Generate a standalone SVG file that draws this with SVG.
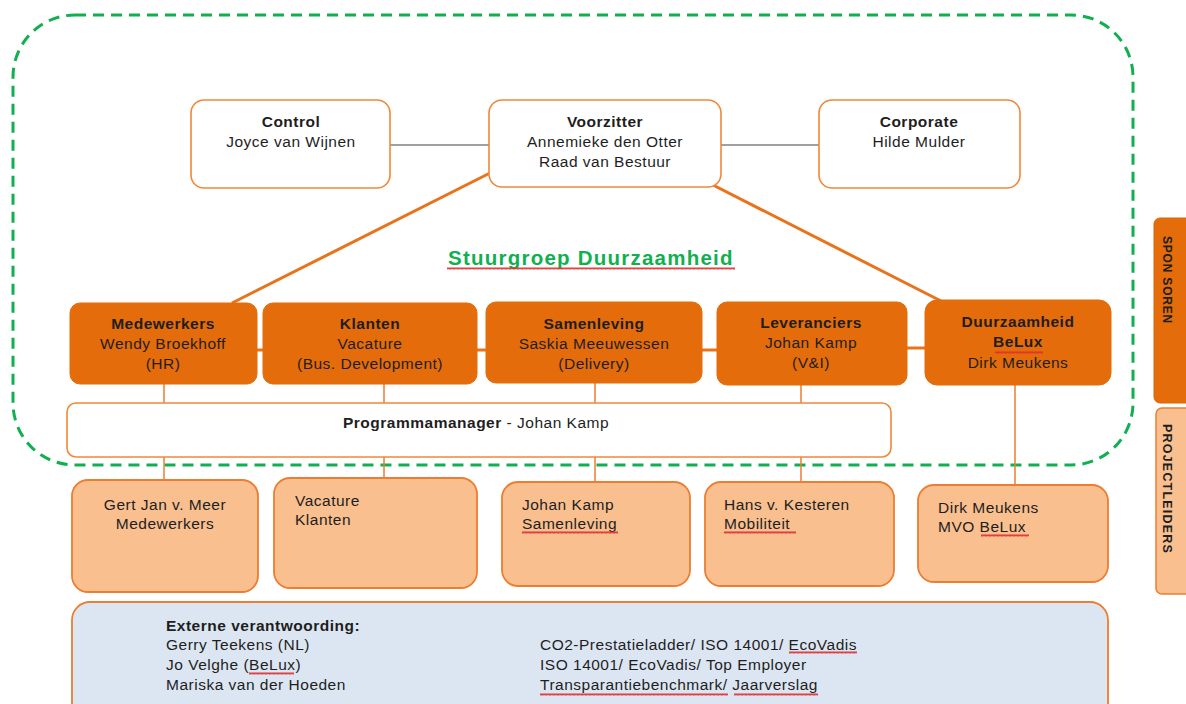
<svg xmlns="http://www.w3.org/2000/svg" width="1186" height="704" viewBox="0 0 1186 704">
<defs>
<pattern id="wave" width="4" height="3" patternUnits="userSpaceOnUse">
<path d="M0 2.6 L1 0.4 L2 2.6 L3 0.4 L4 2.6" fill="none" stroke="#e03030" stroke-width="0.9"/>
</pattern>
</defs>
<style>
text{font-family:"Liberation Sans",Arial,sans-serif;font-size:15.5px;fill:#1e1e1e;letter-spacing:0.5px}
.b{font-weight:bold}
.c{text-anchor:middle}
.wbox{fill:#fff;stroke:#F0883A;stroke-width:1.6}
.obox{fill:#E46C0A;stroke:#E46C0A;stroke-width:1}
.pbox{fill:#F9BF8F;stroke:#ED7D31;stroke-width:1.8}
.thick{stroke:#E8731A;stroke-width:3;fill:none}
.thin{stroke:#ED7D31;stroke-width:1.5;fill:none}
.gray{stroke:#A0A0A0;stroke-width:2;fill:none}
.wv{fill:url(#wave)}
</style>
<rect id="stuurgroep-border" x="13" y="15" width="1120" height="450" rx="62" ry="62" fill="none" stroke="#10B050" stroke-width="3" stroke-dasharray="11 7"/>
<g id="connectors">
<line class="gray" x1="390" y1="145" x2="489" y2="145"/>
<line class="gray" x1="721" y1="145" x2="819" y2="145"/>
<line class="thick" x1="490" y1="173" x2="232" y2="303"/>
<line class="thick" x1="713" y1="185" x2="941" y2="301"/>
<line class="thick" x1="257" y1="350" x2="263" y2="350"/>
<line class="thick" x1="477" y1="350" x2="486" y2="350"/>
<line class="thick" x1="702" y1="350" x2="717" y2="350"/>
<line class="thick" x1="907" y1="348" x2="925" y2="348"/>
<line class="thin" x1="164" y1="384" x2="164" y2="403"/>
<line class="thin" x1="164" y1="457" x2="164" y2="480"/>
<line class="thin" x1="384" y1="384" x2="384" y2="403"/>
<line class="thin" x1="384" y1="457" x2="384" y2="479"/>
<line class="thin" x1="595" y1="383" x2="595" y2="403"/>
<line class="thin" x1="595" y1="457" x2="595" y2="482"/>
<line class="thin" x1="801" y1="385" x2="801" y2="403"/>
<line class="thin" x1="801" y1="457" x2="801" y2="482"/>
<line class="thin" x1="1015" y1="385" x2="1015" y2="485"/>
</g>
<g id="control">
<rect class="wbox" x="191" y="100" width="199" height="88" rx="13"/>
<text class="b c" x="291" y="127">Control</text>
<text class="c" x="291" y="147">Joyce van Wijnen</text>
</g>
<g id="voorzitter">
<rect class="wbox" x="489" y="100" width="232" height="87" rx="13"/>
<text class="b c" x="605" y="127">Voorzitter</text>
<text class="c" x="605" y="147">Annemieke den Otter</text>
<text class="c" x="605" y="167">Raad van Bestuur</text>
</g>
<g id="corporate">
<rect class="wbox" x="819" y="100" width="201" height="88" rx="13"/>
<text class="b c" x="919" y="127">Corporate</text>
<text class="c" x="919" y="147">Hilde Mulder</text>
</g>
<g id="stuurgroep-title">
<text class="b" x="448" y="265" style="fill:#10B050;font-size:20.5px" textLength="285" lengthAdjust="spacing">Stuurgroep Duurzaamheid</text>
<rect class="wv" x="447" y="267" width="288" height="3"/>
</g>
<g id="medewerkers">
<rect class="obox" x="70" y="303" width="187" height="81" rx="10"/>
<text class="b c" x="163" y="329">Medewerkers</text>
<text class="c" x="163" y="349">Wendy Broekhoff</text>
<text class="c" x="163" y="369">(HR)</text>
</g>
<g id="klanten">
<rect class="obox" x="263" y="303" width="214" height="81" rx="10"/>
<text class="b c" x="370" y="329">Klanten</text>
<text class="c" x="370" y="349">Vacature</text>
<text class="c" x="370" y="369">(Bus. Development)</text>
</g>
<g id="samenleving">
<rect class="obox" x="486" y="302" width="216" height="81" rx="10"/>
<text class="b c" x="594" y="329">Samenleving</text>
<text class="c" x="594" y="349">Saskia Meeuwessen</text>
<text class="c" x="594" y="369">(Delivery)</text>
</g>
<g id="leveranciers">
<rect class="obox" x="717" y="302" width="190" height="83" rx="10"/>
<text class="b c" x="811" y="328">Leveranciers</text>
<text class="c" x="811" y="348">Johan Kamp</text>
<text class="c" x="811" y="368">(V&amp;I)</text>
</g>
<g id="duurzaamheid-belux">
<rect class="obox" x="925" y="300" width="186" height="85" rx="12"/>
<text class="b c" x="1018" y="327">Duurzaamheid</text>
<text class="b c" x="1018" y="347">BeLux</text>
<rect class="wv" x="995" y="351" width="48" height="3"/>
<text class="c" x="1018" y="368">Dirk Meukens</text>
</g>
<g id="programmamanager">
<rect class="wbox" x="67" y="403" width="824" height="54" rx="9"/>
<text x="343" y="428"><tspan class="b">Programmamanager</tspan> - Johan Kamp</text>
</g>
<g id="pl-medewerkers">
<rect class="pbox" x="72" y="480" width="186" height="112" rx="16"/>
<text class="c" x="165" y="510">Gert Jan v. Meer</text>
<text class="c" x="165" y="529">Medewerkers</text>
</g>
<g id="pl-klanten">
<rect class="pbox" x="274" y="478" width="203" height="110" rx="16"/>
<text x="295" y="506">Vacature</text>
<text x="295" y="525">Klanten</text>
</g>
<g id="pl-samenleving">
<rect class="pbox" x="502" y="482" width="188" height="104" rx="16"/>
<text x="522" y="510">Johan Kamp</text>
<text x="522" y="529">Samenleving</text>
<rect class="wv" x="522" y="531" width="96" height="3"/>
</g>
<g id="pl-mobiliteit">
<rect class="pbox" x="705" y="482" width="189" height="104" rx="16"/>
<text x="724" y="510">Hans v. Kesteren</text>
<text x="724" y="529">Mobiliteit</text>
<rect class="wv" x="724" y="531" width="72" height="3"/>
</g>
<g id="pl-mvo-belux">
<rect class="pbox" x="918" y="485" width="190" height="97" rx="16"/>
<text x="938" y="513">Dirk Meukens</text>
<text x="938" y="532">MVO BeLux</text>
<rect class="wv" x="981" y="534" width="48" height="3"/>
</g>
<g id="externe-verantwoording">
<rect x="72" y="602" width="1036" height="120" rx="18" fill="#DCE6F2" stroke="#ED7D31" stroke-width="1.8"/>
<text class="b" x="166" y="631">Externe verantwoording:</text>
<text x="166" y="650">Gerry Teekens (NL)</text>
<text x="166" y="670">Jo Velghe (BeLux)</text>
<rect class="wv" x="249" y="672" width="45" height="3"/>
<text x="166" y="690">Mariska van der Hoeden</text>
<text x="540" y="650">CO2-Prestatieladder/ ISO 14001/ EcoVadis</text>
<rect class="wv" x="789" y="651" width="68" height="3"/>
<text x="540" y="670">ISO 14001/ EcoVadis/ Top Employer</text>
<text x="540" y="690">Transparantiebenchmark/ Jaarverslag</text>
<rect class="wv" x="540" y="693" width="188" height="3"/>
<rect class="wv" x="734" y="693" width="84" height="3"/>
</g>
<g id="sponsoren-tab">
<rect x="1154" y="218" width="44" height="185" rx="6" fill="#E46C0A" stroke="#D9650A" stroke-width="1"/>
<text class="b" x="0" y="0" transform="translate(1163,236) rotate(90)" style="font-size:12px;letter-spacing:0.8px">SPON SOREN</text>
</g>
<g id="projectleiders-tab">
<rect x="1156" y="408" width="42" height="186" rx="6" fill="#F9BF8F" stroke="#ED7D31" stroke-width="1.5"/>
<text class="b" x="0" y="0" transform="translate(1163,424) rotate(90)" style="font-size:12.5px;letter-spacing:1.2px">PROJECTLEIDERS</text>
</g>
</svg>
